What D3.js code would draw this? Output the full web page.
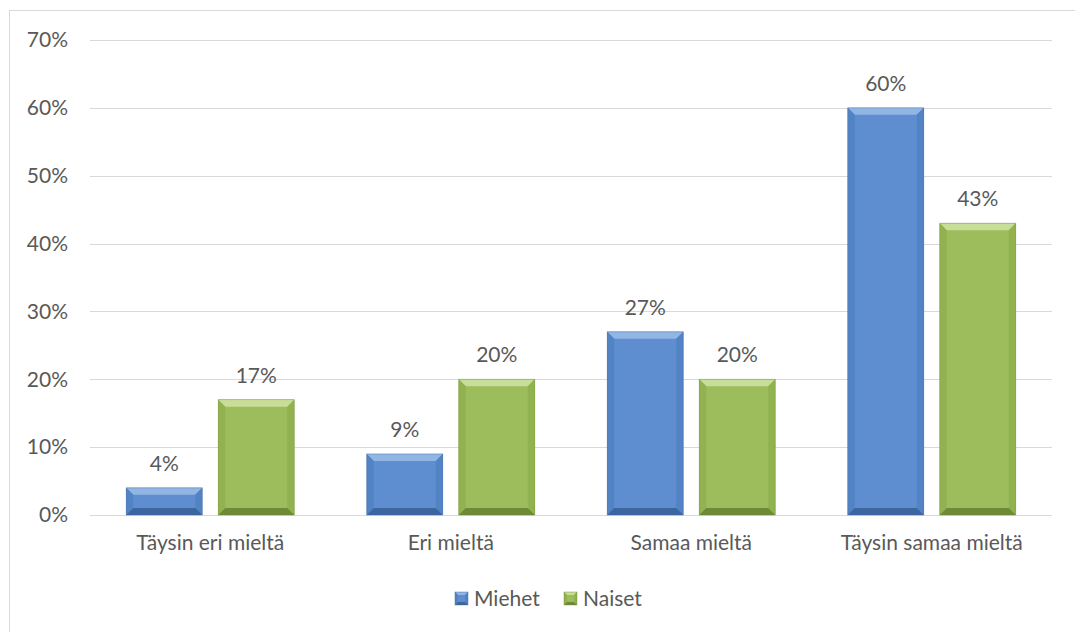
<!DOCTYPE html>
<html>
<head>
<meta charset="utf-8">
<script src="https://cdn.jsdelivr.net/npm/d3@7"></script>
<style>
  body { margin: 0; background: #fff; }
  #chart { width: 1075px; height: 632px; }
  text { font-family: Lato, "Open Sans", sans-serif; fill: #595959; }
</style>
</head>
<body>
<div id="chart"></div>
<script>
const categories = ["Täysin eri mieltä", "Eri mieltä", "Samaa mieltä", "Täysin samaa mieltä"];
const seriesNames = ["Miehet", "Naiset"];
const miehet = [0.04, 0.09, 0.27, 0.60];
const naiset = [0.17, 0.20, 0.20, 0.43];
const yTicks = [0, 0.1, 0.2, 0.3, 0.4, 0.5, 0.6, 0.7];

const palette = {
  Miehet: { main: "#5e8ed0", light: "#92b6e4", dark: "#3b66a0", side: "#5283c4" },
  Naiset: { main: "#9dbd5c", light: "#c8dd98", dark: "#6e8937", side: "#92b250" }
};

const fontSize = "21px";
const width = 1075, height = 632;
const margin = { top: 40, right: 23, bottom: 117, left: 90 };
const iW = width - margin.left - margin.right;
const iH = height - margin.top - margin.bottom;

const svg = d3.select("#chart").append("svg")
  .attr("width", width)
  .attr("height", height);

// outer chart border
svg.append("rect")
  .attr("x", 9.5).attr("y", 10.5)
  .attr("width", 1080).attr("height", 640)
  .attr("fill", "none")
  .attr("stroke", "#d9d9d9")
  .attr("stroke-width", 1);

const g = svg.append("g").attr("transform", `translate(${margin.left},${margin.top})`);

const x = d3.scaleBand().domain(categories).range([0, iW]).paddingInner(0).paddingOuter(0);
const y = d3.scaleLinear().domain([0, 0.7]).range([iH, 0]);

// gridlines
g.selectAll("line.grid")
  .data(yTicks)
  .join("line")
  .attr("class", "grid")
  .attr("x1", 0).attr("x2", iW)
  .attr("y1", d => Math.round(y(d)) + 0.5)
  .attr("y2", d => Math.round(y(d)) + 0.5)
  .attr("stroke", "#d9d9d9")
  .attr("stroke-width", 1);

// y axis labels
g.append("g")
  .call(d3.axisLeft(y).tickValues(yTicks).tickFormat(d3.format(".0%")).tickSize(0).tickPadding(22))
  .call(a => a.select(".domain").remove())
  .call(a => a.selectAll("text")
    .style("font-size", fontSize)
    .style("fill", "#595959")
    .style("font-family", "Lato, 'Open Sans', sans-serif"));

// x axis labels
g.append("g")
  .attr("transform", `translate(0,${iH})`)
  .call(d3.axisBottom(x).tickSize(0).tickPadding(20))
  .call(a => a.select(".domain").remove())
  .call(a => a.selectAll("text")
    .style("font-size", fontSize)
    .style("fill", "#595959")
    .style("font-family", "Lato, 'Open Sans', sans-serif"));

const barW = 76, gap = 16;
const groupW = barW * 2 + gap;
const xs = d3.scaleOrdinal().domain(seriesNames).range([0, barW + gap]);

const rows = [];
categories.forEach((c, i) => {
  rows.push({ cat: c, s: "Miehet", v: miehet[i] });
  rows.push({ cat: c, s: "Naiset", v: naiset[i] });
});

function drawBevel(sel, x0, y0, w, h, col, bev) {
  const b = Math.min(bev, h / 2, w / 2);
  sel.append("rect").attr("x", x0).attr("y", y0).attr("width", w).attr("height", h).attr("fill", col.main);
  // top bevel
  sel.append("polygon")
    .attr("points", [[x0, y0], [x0 + w, y0], [x0 + w - b, y0 + b], [x0 + b, y0 + b]].join(" "))
    .attr("fill", col.light);
  // left bevel
  sel.append("polygon")
    .attr("points", [[x0, y0], [x0 + b, y0 + b], [x0 + b, y0 + h - b], [x0, y0 + h]].join(" "))
    .attr("fill", col.side);
  // right bevel
  sel.append("polygon")
    .attr("points", [[x0 + w, y0], [x0 + w, y0 + h], [x0 + w - b, y0 + h - b], [x0 + w - b, y0 + b]].join(" "))
    .attr("fill", col.side);
  // bottom bevel
  sel.append("polygon")
    .attr("points", [[x0, y0 + h], [x0 + b, y0 + h - b], [x0 + w - b, y0 + h - b], [x0 + w, y0 + h]].join(" "))
    .attr("fill", col.dark);
  sel.append("rect").attr("x", x0).attr("y", y0).attr("width", w).attr("height", h)
    .attr("fill", "none").attr("stroke", col.dark).attr("stroke-width", 0.8).attr("opacity", 0.5);
}

rows.forEach(d => {
  const x0 = x(d.cat) + (x.bandwidth() - groupW) / 2 + xs(d.s);
  const y0 = y(d.v);
  const h = iH - y0;
  const bar = g.append("g");
  drawBevel(bar, x0, y0, barW, h, palette[d.s], 7);
  g.append("text")
    .attr("x", x0 + barW / 2)
    .attr("y", y0 - 17)
    .attr("text-anchor", "middle")
    .style("font-size", fontSize)
    .text(d3.format(".0%")(d.v));
});

// legend
const legend = svg.append("g").attr("transform", "translate(455,592)");
const legendX = [0, 109];
seriesNames.forEach((s, i) => {
  const lg = legend.append("g").attr("transform", `translate(${legendX[i]},0)`);
  drawBevel(lg, 0, 0, 13, 13, palette[s], 3);
  lg.append("text")
    .attr("x", 19).attr("y", 14)
    .style("font-size", fontSize)
    .text(s);
});
</script>
</body>
</html>
